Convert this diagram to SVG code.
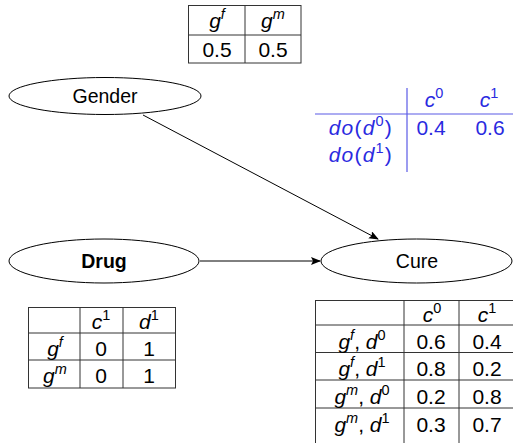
<svg xmlns="http://www.w3.org/2000/svg" width="513" height="443" viewBox="0 0 513 443">
<style>
text{font-family:"Liberation Sans",Arial,sans-serif;font-size:21px;fill:#000;}
.n{font-size:19.5px}
.c{text-anchor:middle}
.i{font-style:italic}
.s{font-size:14.5px}
.tb{fill:none;stroke:#333;stroke-width:1}
.nd{fill:#fff;stroke:#000;stroke-width:1}
.bl text,.bl tspan{fill:#2a2ae0}
.ls{letter-spacing:1.2px}
.bll{stroke:#5a5ae6;stroke-width:1.2;fill:none}
.edge{stroke:#000;stroke-width:1;fill:none;marker-end:url(#ah)}
</style>
<defs>
<marker id="ah" markerWidth="10" markerHeight="8" refX="9" refY="4" orient="auto" markerUnits="userSpaceOnUse">
<path d="M0,0 L10,4 L0,8 L2,4 Z" fill="#000"/>
</marker>
</defs>

<g id="table-gender">
<rect class="tb" x="188.5" y="5.5" width="112.5" height="57.5"/>
<line class="tb" x1="245" y1="5.5" x2="245" y2="63"/>
<line class="tb" x1="188.5" y1="35" x2="301" y2="35"/>
<text class="c" x="217" y="28"><tspan class="i">g</tspan><tspan class="s i" dy="-9">f</tspan></text>
<text class="c" x="273" y="28"><tspan class="i">g</tspan><tspan class="s i" dy="-9">m</tspan></text>
<text class="c" x="217" y="57">0.5</text>
<text class="c" x="273" y="57">0.5</text>
</g>

<g id="table-intervention" class="bl">
<line class="bll" x1="407" y1="88" x2="407" y2="172"/>
<line class="bll" x1="315" y1="114" x2="513" y2="114"/>
<text class="c" x="434" y="107"><tspan class="i">c</tspan><tspan class="s" dy="-9">0</tspan></text>
<text class="c" x="489" y="107"><tspan class="i">c</tspan><tspan class="s" dy="-9">1</tspan></text>
<text class="ls" x="393" y="135" text-anchor="end"><tspan class="i">do</tspan>(<tspan class="i">d</tspan><tspan class="s" dy="-9">0</tspan><tspan dy="9">)</tspan></text>
<text class="ls" x="393" y="162" text-anchor="end"><tspan class="i">do</tspan>(<tspan class="i">d</tspan><tspan class="s" dy="-9">1</tspan><tspan dy="9">)</tspan></text>
<text class="c" x="431" y="135">0.4</text>
<text class="c" x="490" y="135">0.6</text>
</g>

<g id="connectors">
<line class="edge" x1="143" y1="115" x2="378" y2="239"/>
<line class="edge" x1="200" y1="261" x2="320" y2="261"/>
</g>

<g id="node-gender">
<ellipse class="nd" cx="105" cy="96" rx="96" ry="18.5"/>
<text class="c n" x="105" y="103">Gender</text>
</g>

<g id="node-drug">
<ellipse class="nd" cx="104" cy="261" rx="95" ry="22" stroke-width="2.5"/>
<text class="c n" x="104" y="268" font-weight="bold">Drug</text>
</g>

<g id="node-cure">
<ellipse class="nd" cx="416.5" cy="261" rx="95.5" ry="22"/>
<text class="c n" x="417" y="268">Cure</text>
</g>

<g id="table-drug">
<rect class="tb" x="28.5" y="307.5" width="147" height="80.5"/>
<line class="tb" x1="80" y1="307.5" x2="80" y2="388"/>
<line class="tb" x1="123" y1="307.5" x2="123" y2="388"/>
<line class="tb" x1="28.5" y1="333" x2="175.5" y2="333"/>
<line class="tb" x1="28.5" y1="360" x2="175.5" y2="360"/>
<text class="c" x="101" y="329"><tspan class="i">c</tspan><tspan class="s" dy="-9">1</tspan></text>
<text class="c" x="149" y="329"><tspan class="i">d</tspan><tspan class="s" dy="-9">1</tspan></text>
<text class="c" x="55" y="356"><tspan class="i">g</tspan><tspan class="s i" dy="-9">f</tspan></text>
<text class="c" x="101" y="356">0</text>
<text class="c" x="149" y="356">1</text>
<text class="c" x="55" y="383"><tspan class="i">g</tspan><tspan class="s i" dy="-9">m</tspan></text>
<text class="c" x="101" y="383">0</text>
<text class="c" x="149" y="383">1</text>
</g>

<g id="table-cure">
<rect class="tb" x="315.5" y="300.5" width="200" height="145"/>
<line class="tb" x1="404" y1="300.5" x2="404" y2="445"/>
<line class="tb" x1="459" y1="300.5" x2="459" y2="445"/>
<line class="tb" x1="315.5" y1="325" x2="515" y2="325"/>
<line class="tb" x1="315.5" y1="352.5" x2="515" y2="352.5"/>
<line class="tb" x1="315.5" y1="380" x2="515" y2="380"/>
<line class="tb" x1="315.5" y1="408" x2="515" y2="408"/>
<text class="c" x="432" y="322"><tspan class="i">c</tspan><tspan class="s" dy="-9">0</tspan></text>
<text class="c" x="487" y="322"><tspan class="i">c</tspan><tspan class="s" dy="-9">1</tspan></text>
<text class="c" x="362" y="349"><tspan class="i">g</tspan><tspan class="s i" dy="-9">f</tspan><tspan dy="9">, </tspan><tspan class="i">d</tspan><tspan class="s" dy="-9">0</tspan></text>
<text class="c" x="362" y="376"><tspan class="i">g</tspan><tspan class="s i" dy="-9">f</tspan><tspan dy="9">, </tspan><tspan class="i">d</tspan><tspan class="s" dy="-9">1</tspan></text>
<text class="c" x="362" y="404"><tspan class="i">g</tspan><tspan class="s i" dy="-9">m</tspan><tspan dy="9">, </tspan><tspan class="i">d</tspan><tspan class="s" dy="-9">0</tspan></text>
<text class="c" x="362" y="432"><tspan class="i">g</tspan><tspan class="s i" dy="-9">m</tspan><tspan dy="9">, </tspan><tspan class="i">d</tspan><tspan class="s" dy="-9">1</tspan></text>
<text class="c" x="431" y="349">0.6</text>
<text class="c" x="487" y="349">0.4</text>
<text class="c" x="431" y="376">0.8</text>
<text class="c" x="487" y="376">0.2</text>
<text class="c" x="431" y="404">0.2</text>
<text class="c" x="487" y="404">0.8</text>
<text class="c" x="431" y="432">0.3</text>
<text class="c" x="487" y="432">0.7</text>
</g>
</svg>
